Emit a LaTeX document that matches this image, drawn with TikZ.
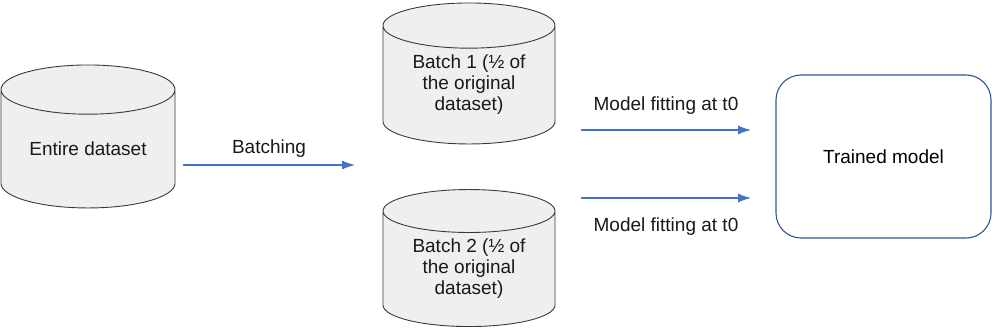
\documentclass[tikz,border=0pt]{standalone}
\usepackage{fontspec}
\setmainfont{Liberation Sans}
\usepackage{xcolor}
\usetikzlibrary{arrows.meta,positioning,shapes.geometric}
\definecolor{dbfill}{HTML}{EEF0F0}
\definecolor{dbline}{HTML}{3A3A3A}
\definecolor{arrblue}{HTML}{4472C4}
\definecolor{boxblue}{HTML}{2F5597}

\begin{document}
\begin{tikzpicture}[
  x=1pt,y=-1pt,
  db/.style={cylinder,shape border rotate=90,draw=dbline,fill=dbfill,
    line width=0.9pt,inner sep=0pt,align=center,text=black!90},
  model/.style={draw=boxblue,line width=1.1pt,rounded corners=25pt,
    minimum width=215pt,minimum height=163pt,align=center},
  arr/.style={-{Latex[length=13pt,width=9pt]},draw=arrblue,line width=1.1pt},
  lbl/.style={text=black!90}
]
  \useasboundingbox (0,0) rectangle (992,328);
  \tikzset{every node/.append style={font=\fontsize{19}{21}\selectfont}}

  % data stores
  \node[db,minimum width=174pt,minimum height=143pt,aspect=0.42] (entire)
    at (88,149) {Entire dataset};
  \node[db,minimum width=172pt,minimum height=141pt,aspect=0.4] (batchA)
    at (469,85) {Batch 1 (½ of\\the original\\dataset)};
  \node[db,minimum width=172pt,minimum height=137pt,aspect=0.38] (batchB)
    at (469,269) {Batch 2 (½ of\\the original\\dataset)};

  % result
  \node[model] (trained) at (883.5,156.5) {Trained model};

  % arrow ends
  \coordinate (split in) at (183,165);
  \coordinate (split out) at (355,165);
  \coordinate (fitA in) at (581,130);
  \coordinate (fitA out) at (751,130);
  \coordinate (fitB in) at (581,198);
  \coordinate (fitB out) at (751,198);

  \draw[arr] (split in) -- (split out)
    node[lbl,midway,above=4pt] (lblsplit) {Batching};
  \draw[arr] (fitA in) -- (fitA out)
    node[lbl,midway,above=12pt] (lblfitA) {Model fitting at t0};
  \draw[arr] (fitB in) -- (fitB out)
    node[lbl,midway,below=16pt] (lblfitB) {Model fitting at t0};
\end{tikzpicture}
\end{document}
